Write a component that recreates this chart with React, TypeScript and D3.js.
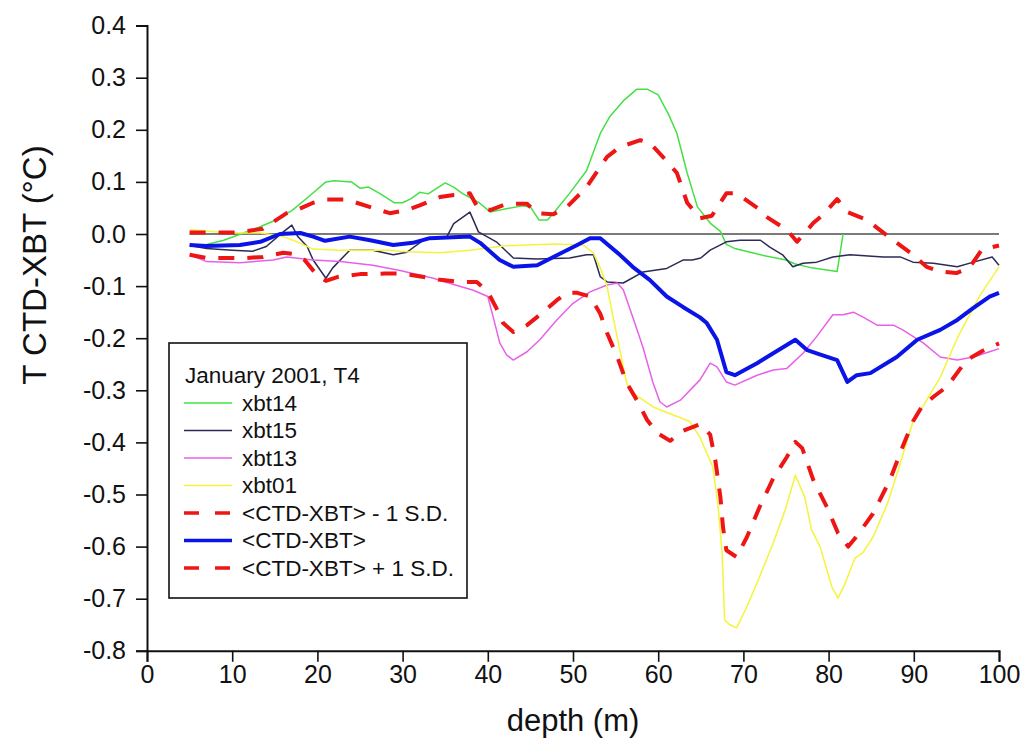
import React, { useEffect, useRef } from 'react';
import * as d3 from 'd3';

type Pt = [number, number];

// depth (m), T CTD-XBT (°C)
const xbt14: Pt[] = [[7,-0.02],[9,-0.012],[11,0],[13,0.012],[15,0.026],[17,0.045],[19,0.072],[21,0.1],[22,0.102],[24,0.1],[25,0.088],[26,0.09],[27.3,0.078],[29,0.06],[30,0.06],[31,0.068],[32,0.08],[33,0.077],[35,0.098],[36,0.09],[37,0.078],[39,0.06],[40.3,0.042],[42,0.048],[44,0.054],[45,0.052],[46,0.027],[47,0.027],[47.7,0.04],[49.6,0.078],[51.6,0.122],[53.2,0.193],[54.3,0.225],[56,0.257],[57.5,0.278],[58.7,0.278],[60,0.267],[61.2,0.23],[62.2,0.193],[63.4,0.117],[64.6,0.052],[66.1,0.021],[67.3,0.005],[68,-0.02],[69,-0.028],[72,-0.04],[75,-0.05],[76,-0.057],[78,-0.065],[81,-0.072],[81.7,0]];

const xbt15: Pt[] = [[5,-0.022],[7,-0.028],[10,-0.031],[12.4,-0.033],[14,-0.024],[16,0.004],[17,0.017],[17.7,-0.005],[18.8,-0.024],[19.5,-0.05],[21,-0.085],[21.8,-0.065],[23.8,-0.031],[26.5,-0.031],[28.9,-0.04],[30.5,-0.035],[32,-0.017],[32.8,-0.008],[34.4,-0.008],[35.2,-0.005],[36,0.02],[37.9,0.042],[38.9,0.004],[39.9,-0.005],[41,-0.015],[43,-0.046],[45.8,-0.048],[49.6,-0.046],[51.6,-0.04],[52.4,-0.04],[53.2,-0.082],[54,-0.092],[55.9,-0.094],[58.2,-0.073],[61,-0.066],[62.9,-0.05],[64,-0.05],[65,-0.046],[66.1,-0.031],[68,-0.015],[69.6,-0.012],[72,-0.012],[73.1,-0.025],[74.6,-0.04],[75.8,-0.063],[77,-0.056],[78.6,-0.054],[80.5,-0.044],[82.5,-0.04],[86.4,-0.044],[88.4,-0.044],[89.9,-0.054],[92.3,-0.056],[95.1,-0.063],[97,-0.054],[99.2,-0.044],[100,-0.06]];

const xbt13: Pt[] = [[5,-0.04],[7,-0.053],[10.9,-0.055],[14.8,-0.05],[16.4,-0.044],[19.5,-0.05],[22.7,-0.053],[26.5,-0.06],[29.7,-0.07],[33.6,-0.085],[35.6,-0.095],[38.3,-0.108],[40,-0.12],[40.8,-0.17],[41.4,-0.209],[42.2,-0.232],[43,-0.242],[44.6,-0.226],[46.1,-0.203],[48.1,-0.165],[50,-0.133],[52,-0.111],[54,-0.098],[55.2,-0.094],[55.9,-0.107],[57,-0.159],[58.2,-0.217],[59.4,-0.286],[60.2,-0.322],[61,-0.332],[62.6,-0.319],[64.9,-0.28],[66.1,-0.248],[66.9,-0.255],[68,-0.284],[69,-0.29],[71.6,-0.271],[73.5,-0.261],[75.1,-0.258],[77,-0.229],[78.6,-0.197],[80.5,-0.155],[81.7,-0.155],[82.9,-0.15],[84,-0.159],[85.7,-0.175],[87.6,-0.175],[88.7,-0.184],[91.1,-0.209],[93.1,-0.236],[95.1,-0.242],[97,-0.236],[98.9,-0.226],[100,-0.22]];

const xbt01: Pt[] = [[5,0.008],[9.7,0.002],[13.3,0.002],[16,-0.005],[17.6,-0.015],[19.5,-0.029],[22.7,-0.031],[28.5,-0.031],[30.5,-0.034],[34.4,-0.036],[37.9,-0.031],[41.8,-0.023],[47.7,-0.019],[51.2,-0.021],[52.4,-0.037],[53.2,-0.065],[54,-0.101],[54.7,-0.159],[55.5,-0.223],[56.3,-0.286],[57,-0.305],[59.4,-0.332],[61.7,-0.347],[63.7,-0.36],[64.9,-0.39],[66.4,-0.447],[67,-0.517],[67.5,-0.612],[67.8,-0.741],[68.4,-0.75],[69.2,-0.756],[70.4,-0.716],[71.9,-0.658],[73.5,-0.593],[74.9,-0.53],[76.1,-0.463],[77.2,-0.505],[78,-0.568],[79,-0.6],[79.8,-0.645],[80.4,-0.678],[81.1,-0.699],[81.9,-0.672],[83.1,-0.622],[84,-0.612],[85.2,-0.582],[86.9,-0.518],[88.4,-0.441],[89.9,-0.36],[91.1,-0.33],[93.1,-0.275],[95.1,-0.2],[97.8,-0.117],[100,-0.063]];

const minusSD: Pt[] = [[5,-0.04],[7,-0.046],[11.7,-0.046],[13.6,-0.044],[16,-0.036],[17.1,-0.038],[18.5,-0.05],[20,-0.08],[21,-0.09],[22.5,-0.082],[25,-0.077],[28,-0.076],[29.7,-0.076],[31.2,-0.079],[34.4,-0.088],[36.7,-0.092],[38.7,-0.092],[40,-0.111],[41,-0.142],[41.8,-0.171],[43,-0.188],[44.6,-0.175],[46.5,-0.15],[48.1,-0.127],[49.3,-0.113],[50.5,-0.113],[52,-0.12],[53.2,-0.153],[54,-0.19],[55.2,-0.236],[56.3,-0.286],[57.5,-0.319],[58.7,-0.357],[59.9,-0.382],[61.4,-0.397],[62.9,-0.378],[64.9,-0.365],[66.1,-0.385],[66.7,-0.434],[67.3,-0.505],[67.6,-0.562],[68,-0.607],[69.2,-0.62],[70.4,-0.582],[71.9,-0.524],[73.5,-0.469],[75.1,-0.428],[76.1,-0.399],[76.9,-0.411],[78.2,-0.472],[79.8,-0.524],[81.1,-0.574],[82.3,-0.6],[83.3,-0.58],[85.2,-0.537],[87.2,-0.472],[88.7,-0.408],[89.9,-0.36],[91,-0.33],[92.5,-0.31],[93.9,-0.293],[96.2,-0.242],[98,-0.225],[100,-0.21]];

const meanDiff: Pt[] = [[5,-0.021],[7,-0.023],[10.9,-0.021],[13.3,-0.015],[15.6,0],[18,0.002],[19.5,-0.005],[20.9,-0.013],[23.8,-0.005],[26.2,-0.012],[28.9,-0.021],[31.2,-0.017],[33.2,-0.008],[37.9,-0.005],[39.1,-0.017],[41.4,-0.05],[43,-0.063],[45.8,-0.06],[47.7,-0.044],[50.5,-0.021],[52,-0.008],[53.2,-0.008],[55.5,-0.04],[57,-0.063],[59,-0.088],[61,-0.12],[62.9,-0.14],[64.9,-0.16],[65.7,-0.171],[66.9,-0.203],[68,-0.265],[69,-0.271],[71.6,-0.248],[73.5,-0.229],[76.1,-0.203],[77.5,-0.223],[78.6,-0.229],[81,-0.242],[82.2,-0.284],[83.3,-0.271],[84.9,-0.267],[88,-0.236],[90.4,-0.203],[93.1,-0.184],[95.1,-0.165],[97,-0.142],[98.9,-0.12],[100,-0.113]];

const plusSD: Pt[] = [[5,0.003],[10.5,0.003],[13.6,0.01],[16.4,0.04],[17.6,0.046],[19.5,0.06],[20.9,0.066],[23.4,0.066],[24.6,0.06],[27.3,0.046],[28.5,0.04],[30.5,0.046],[32,0.055],[34.4,0.071],[36,0.075],[37.9,0.078],[38.7,0.054],[40.3,0.046],[42.2,0.058],[44.6,0.058],[45.8,0.04],[47.7,0.038],[49.3,0.052],[51.6,0.09],[54,0.148],[55.5,0.167],[57.9,0.18],[59,0.175],[61,0.14],[62.2,0.117],[63.4,0.06],[64.9,0.03],[66.3,0.035],[68,0.078],[69.2,0.078],[72,0.046],[72.7,0.033],[75.1,0.008],[76.3,-0.015],[78.2,0.021],[79.3,0.036],[81,0.067],[82.2,0.042],[84.5,0.027],[86,0.008],[88,-0.017],[89.6,-0.036],[91.5,-0.063],[93,-0.072],[95,-0.075],[96.5,-0.065],[98,-0.03],[100,-0.022]];

const zeroLine: Pt[] = [[5,0],[100,0]];

const legendTitle = 'January 2001, T4';
const seriesNames = ['xbt14', 'xbt15', 'xbt13', 'xbt01', '<CTD-XBT> - 1 S.D.', '<CTD-XBT>', '<CTD-XBT> + 1 S.D.'];
const seriesColors = ['#44e044', '#2b2b55', '#e860e8', '#f4f43a', '#ee1515', '#0a14e6', '#ee1515'];
const seriesWidths = [1.5, 1.5, 1.5, 1.5, 4, 4, 4];
const seriesDash = [null, null, null, null, '16,13', null, '16,13'];
const seriesData = [xbt14, xbt15, xbt13, xbt01, minusSD, meanDiff, plusSD];

const xTicks = [0, 10, 20, 30, 40, 50, 60, 70, 80, 90, 100];
const xMinor = [5, 15, 25, 35, 45, 55, 65, 75, 85, 95];
const yTicks = [-0.8, -0.7, -0.6, -0.5, -0.4, -0.3, -0.2, -0.1, 0, 0.1, 0.2, 0.3, 0.4];
const yMinor = [-0.75, -0.65, -0.55, -0.45, -0.35, -0.25, -0.15, -0.05, 0.05, 0.15, 0.25, 0.35];

const W = 1026, H = 753;
const FONT = '"Liberation Sans", Arial, sans-serif';

const App = () => {
  const node = useRef<SVGSVGElement>(null);

  useEffect(() => {
    const svg = d3.select(node.current);
    svg.selectAll('*').remove();

    const x = d3.scaleLinear().domain([0, 100]).range([147, 999]);
    const y = d3.scaleLinear().domain([-0.8, 0.4]).range([650.8, 25.6]);

    // zero reference line
    const line = d3.line<Pt>().x(d => x(d[0])).y(d => y(d[1]));
    svg.append('path')
      .attr('d', line(zeroLine))
      .attr('fill', 'none')
      .attr('stroke', '#7a7a7a')
      .attr('stroke-width', 1.8);

    seriesData.forEach((data, i) => {
      const p = svg.append('path')
        .attr('d', line(data))
        .attr('fill', 'none')
        .attr('stroke', seriesColors[i])
        .attr('stroke-width', seriesWidths[i])
        .attr('stroke-linejoin', 'round');
      if (seriesDash[i]) p.attr('stroke-dasharray', seriesDash[i]);
    });

    // axes
    const gx = svg.append('g').attr('transform', `translate(0,${y(-0.8)})`);
    gx.call(d3.axisBottom(x).tickValues(xMinor).tickSize(6).tickFormat(() => ''));
    gx.call(d3.axisBottom(x).tickValues(xTicks).tickSize(11).tickPadding(3).tickFormat(d => String(d)));

    const gy = svg.append('g').attr('transform', `translate(${x(0)},0)`);
    gy.call(d3.axisLeft(y).tickValues(yMinor).tickSize(6).tickFormat(() => ''));
    gy.call(d3.axisLeft(y).tickValues(yTicks).tickSize(11).tickPadding(10).tickFormat(d => (+d).toFixed(1)));

    svg.selectAll('.domain').attr('stroke', '#111').attr('stroke-width', 2);
    svg.selectAll('.tick line').attr('stroke', '#111').attr('stroke-width', 1.6);
    svg.selectAll('.tick text')
      .attr('font-family', FONT)
      .attr('font-size', 25)
      .attr('fill', '#111');

    svg.append('text')
      .attr('x', 573).attr('y', 731)
      .attr('text-anchor', 'middle')
      .attr('font-family', FONT)
      .attr('font-size', 31)
      .attr('fill', '#111')
      .text('depth (m)');

    svg.append('text')
      .attr('transform', 'translate(46,265) rotate(-90)')
      .attr('text-anchor', 'middle')
      .attr('font-family', FONT)
      .attr('font-size', 33)
      .attr('fill', '#111')
      .text('T CTD-XBT (°C)');

    // legend
    const lg = svg.append('g');
    lg.append('rect')
      .attr('x', 169).attr('y', 343)
      .attr('width', 298).attr('height', 255)
      .attr('fill', '#fff')
      .attr('stroke', '#111')
      .attr('stroke-width', 1.6);
    lg.append('text')
      .attr('x', 185).attr('y', 375)
      .attr('dy', '0.35em')
      .attr('font-family', FONT)
      .attr('font-size', 22.5)
      .attr('fill', '#111')
      .text(legendTitle);
    seriesNames.forEach((name, i) => {
      const cy = 403 + i * 27.5;
      const l = lg.append('line')
        .attr('x1', 184).attr('x2', 232)
        .attr('y1', cy).attr('y2', cy)
        .attr('stroke', seriesColors[i])
        .attr('stroke-width', seriesWidths[i] === 4 ? 3.5 : 1.5);
      if (seriesDash[i]) l.attr('stroke-dasharray', '15,16');
      lg.append('text')
        .attr('x', 242).attr('y', cy)
        .attr('dy', '0.35em')
        .attr('font-family', FONT)
        .attr('font-size', 22.5)
        .attr('fill', '#111')
        .text(name);
    });
  }, []);

  return (
    <svg ref={node} width={W} height={H} style={{ position: 'absolute', left: 0, top: 0, background: '#fff' }} />
  );
};

export default App;
